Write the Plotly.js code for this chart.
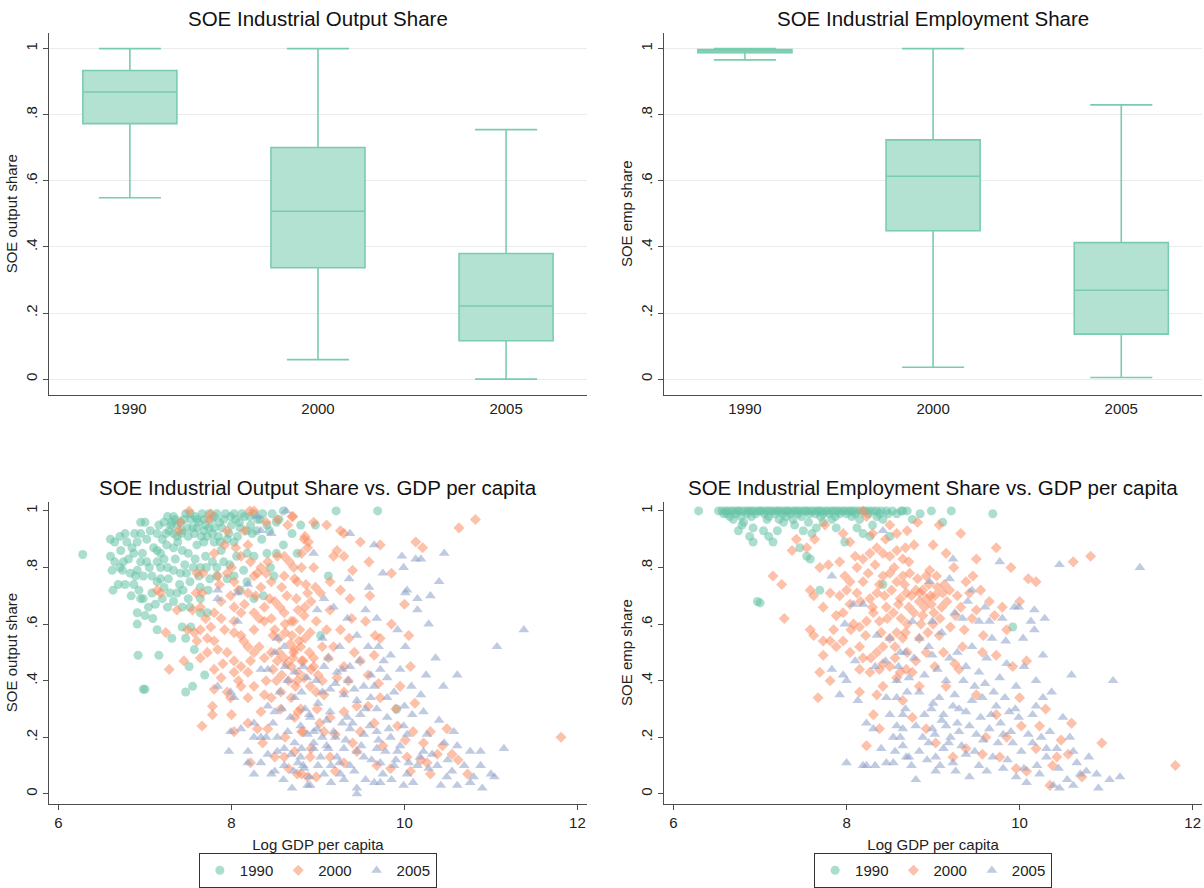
<!DOCTYPE html>
<html>
<head>
<meta charset="utf-8">
<script src="https://cdn.plot.ly/plotly-3.0.1.min.js"></script>
<style>html,body{margin:0;padding:0;background:#fff;}#chart{width:1204px;height:888px;}</style>
</head>
<body>
<div id="chart"></div>
<script>
// ---------- Box plot data (precomputed statistics) ----------
const years = ['1990', '2000', '2005'];
const outQ1 = [0.773, 0.337, 0.116];
const outMedian = [0.869, 0.508, 0.221];
const outQ3 = [0.934, 0.701, 0.380];
const outLow = [0.549, 0.059, 0.0];
const outHigh = [1.0, 1.0, 0.755];

const empQ1 = [0.988, 0.449, 0.136];
const empMedian = [0.995, 0.614, 0.269];
const empQ3 = [0.997, 0.724, 0.413];
const empLow = [0.966, 0.036, 0.005];
const empHigh = [1.0, 1.0, 0.830];

const yTickVals = [0, 0.2, 0.4, 0.6, 0.8, 1];
const yTickText = ['0', '.2', '.4', '.6', '.8', '1'];
const xTickVals = [6, 8, 10, 12];
const xTickText = ['6', '8', '10', '12'];

// ---------- Scatter data: [log GDP per capita, share] ----------
const out1990 = [[6.28,.846],[6.60,.90],[6.65,.89],[6.71,.91],[6.77,.92],[6.60,.84],[6.65,.82],[6.75,.82],[6.81,.83],[6.62,.79],[6.71,.80],[6.79,.89],[6.85,.87],[6.91,.89],[6.95,.96],[7.00,.96],[6.95,.92],[7.02,.90],[6.87,.85],[6.95,.82],[7.02,.82],[6.91,.79],[6.98,.77],[6.89,.77],[6.69,.74],[6.77,.74],[6.87,.74],[6.95,.69],[6.91,.64],[6.98,.69],[7.04,.66],[7.08,.71],[7.12,.67],[7.14,.75],[7.18,.76],[7.22,.73],[7.08,.77],[7.14,.82],[7.14,.86],[7.18,.85],[7.22,.83],[7.10,.87],[7.14,.92],[7.16,.95],[7.24,.92],[7.22,.96],[7.26,.98],[7.28,.93],[7.31,.96],[7.33,.98],[7.37,.95],[7.41,.96],[7.47,.99],[7.53,.97],[7.58,.98],[7.62,.96],[7.68,.97],[7.74,.99],[7.80,.98],[7.33,.92],[7.37,.91],[7.43,.93],[7.49,.94],[7.55,.94],[7.60,.94],[7.68,.93],[7.74,.94],[7.80,.94],[7.86,.96],[7.91,.97],[7.99,.98],[8.03,.99],[8.09,.96],[8.15,.98],[8.21,.98],[8.26,.99],[8.10,.94],[8.18,.93],[8.29,.93],[8.41,.95],[7.33,.87],[7.43,.86],[7.50,.85],[7.60,.88],[7.68,.89],[7.80,.89],[7.87,.89],[7.95,.90],[8.03,.89],[7.26,.80],[7.33,.79],[7.41,.78],[7.48,.78],[7.56,.80],[7.64,.80],[7.71,.80],[7.83,.80],[7.91,.82],[7.29,.71],[7.37,.71],[7.44,.72],[7.52,.75],[7.64,.73],[7.75,.76],[7.83,.77],[7.95,.76],[8.03,.77],[8.18,.85],[8.26,.84],[8.41,.85],[8.49,.77],[8.33,.97],[8.47,.99],[8.60,.88],[8.18,.75],[8.37,.70],[7.26,.66],[7.33,.68],[7.43,.66],[7.52,.66],[7.64,.69],[8.10,.72],[8.26,.69],[6.91,.60],[6.92,.49],[6.98,.37],[7.00,.37],[7.14,.58],[7.16,.49],[7.31,.55],[7.43,.59],[7.53,.59],[7.47,.55],[7.51,.45],[7.47,.36],[7.55,.38],[7.57,.51],[7.69,.42],[7.72,.64],[7.64,.64],[8.80,.95],[8.97,.95],[9.21,1.0],[9.69,1.0],[8.76,.85],[9.12,.77],[9.03,.56],[9.91,.30],[8.60,1.0],[8.52,.96],
  [7.20,.90],[7.25,.88],[7.30,.95],[7.35,.97],[7.38,.89],[7.42,.92],[7.45,.97],[7.50,.91],[7.52,.99],[7.57,.92],[7.60,.97],[7.65,.91],[7.66,.99],[7.70,.95],[7.72,.91],[7.77,.97],[7.78,.92],[7.83,.99],[7.85,.91],[7.89,.94],[7.93,.99],[7.97,.92],[8.00,.95],[8.05,.97],[8.07,.91],[8.12,.99],[8.22,.95],[8.24,.92],[8.30,.97],[8.36,.99],[8.44,.93],[8.55,.97],[7.18,.80],[7.20,.69],[7.27,.76],[7.35,.83],[7.40,.74],[7.46,.81],[7.50,.69],[7.58,.83],[7.62,.77],[7.70,.84],[7.73,.72],[7.78,.82],[7.88,.86],[7.98,.81],[8.06,.84],[8.14,.79],[6.72,.86],[6.83,.78],[6.88,.92],[6.97,.85],[7.05,.80],[7.06,.93],[6.93,.72],[6.84,.70],[7.00,.63],[7.09,.62],[6.63,.72],[6.74,.79],[8.35,.90],[8.52,.85],[8.70,.92],[8.45,.80]];

const out2000 = [[7.51,1.0],[7.76,.99],[7.74,.97],[7.41,.96],[7.39,.93],[8.21,1.0],[8.26,1.0],[7.95,.93],[8.53,.97],[8.65,.95],[8.71,.98],[8.84,.90],[8.88,.87],[8.81,.85],[8.61,.84],[8.53,.84],[8.42,.82],[8.34,.80],[8.30,.78],[8.26,.77],[8.11,.84],[8.05,.87],[8.19,.88],[7.80,.85],[7.60,.78],[7.67,.78],[7.84,.77],[7.95,.78],[8.03,.75],[7.86,.74],[7.66,.71],[7.59,.71],[7.14,.72],[7.18,.71],[7.88,.68],[7.99,.70],[8.19,.71],[8.34,.73],[8.46,.75],[8.61,.77],[8.73,.76],[8.81,.80],[8.88,.71],[8.38,.66],[8.50,.68],[8.26,.64],[8.11,.64],[8.03,.61],[7.88,.62],[7.76,.59],[7.64,.58],[7.57,.57],[7.80,.54],[7.72,.55],[7.60,.54],[7.84,.51],[7.95,.50],[8.03,.57],[8.11,.56],[8.19,.52],[8.26,.58],[8.38,.61],[8.46,.62],[8.61,.64],[8.69,.61],[8.77,.65],[8.84,.63],[8.26,.50],[8.38,.48],[8.46,.50],[8.53,.47],[8.61,.48],[8.69,.45],[8.77,.43],[8.84,.41],[8.81,.47],[8.73,.51],[8.03,.47],[8.11,.45],[8.19,.43],[8.03,.43],[7.88,.41],[7.80,.37],[7.95,.36],[8.11,.38],[8.26,.38],[8.38,.35],[8.46,.34],[8.57,.36],[8.69,.34],[8.77,.29],[8.57,.30],[8.34,.29],[8.19,.34],[7.99,.34],[7.78,.31],[7.78,.28],[7.66,.24],[8.19,.25],[8.30,.23],[8.42,.23],[8.73,.27],[8.81,.22],[8.50,.13],[8.61,.13],[8.73,.15],[8.81,.07],[8.88,.06],[8.22,.11],[7.28,.44],[7.24,.57],[7.37,.65],[7.49,.58],[7.72,.50],[7.64,.48],[7.45,.47],[7.80,.44],[8.03,.66],[7.64,.66],[7.80,.64],[8.03,.22],[8.55,.55],[8.62,.57],[8.68,.53],[8.58,.42],[8.66,.40],[8.74,.38],[8.52,.40],[8.62,.60],[8.70,.56],[8.80,.52],[8.85,.55],[8.90,.50],[8.95,.48],[9.00,.42],[8.50,.58],[8.70,.98],[9.10,.95],[9.26,.93],[9.30,.92],[9.49,.89],[9.72,.88],[10.13,.89],[10.21,.87],[10.63,.94],[10.82,.97],[9.59,.82],[9.22,.86],[9.30,.84],[9.18,.84],[8.85,.91],[8.89,.89],[8.95,.80],[8.72,.80],[8.76,.75],[8.97,.73],[9.14,.75],[9.26,.72],[9.37,.69],[9.03,.71],[8.85,.66],[9.14,.65],[9.39,.62],[8.72,.61],[8.91,.57],[9.26,.58],[9.36,.55],[9.66,.56],[9.72,.55],[10.05,.56],[8.72,.50],[8.83,.47],[8.95,.45],[9.12,.48],[9.30,.45],[9.49,.47],[9.65,.49],[10.07,.45],[8.76,.40],[8.91,.38],[9.07,.35],[9.30,.36],[9.70,.39],[9.72,.34],[8.80,.30],[8.99,.30],[9.14,.27],[9.30,.29],[9.45,.31],[9.92,.24],[10.01,.19],[10.22,.18],[10.49,.23],[10.44,.17],[11.81,.20],[10.03,.13],[10.19,.12],[10.26,.11],[10.38,.14],[10.55,.14],[10.73,.07],[8.76,.07],[8.91,.13],[9.14,.13],[9.30,.11],[9.45,.15],[9.68,.10],[9.84,.09],[10.07,.08],[9.49,.22],[9.65,.25],[9.07,.22],[8.83,.22],
  [8.00,.80],[8.08,.72],[8.15,.67],[8.22,.82],[8.28,.70],[8.32,.62],[8.40,.78],[8.44,.69],[8.48,.56],[8.56,.66],[8.58,.73],[8.64,.70],[8.67,.82],[8.75,.69],[8.79,.58],[8.86,.74],[8.92,.68],[8.98,.61],[9.05,.52],[9.10,.58],[9.18,.52],[9.22,.41],[9.35,.40],[9.42,.50],[9.55,.61],[9.58,.42],[9.85,.60],[9.95,.38],[10.12,.32],[9.02,.25],[9.20,.21],[9.40,.18],[9.58,.31],[9.75,.17],[9.90,.30],[10.30,.22],[8.40,.40],[8.48,.44],[8.55,.50],[8.64,.46],[8.71,.48],[8.78,.54],[8.92,.44],[8.98,.36],[9.05,.40],[8.32,.52],[8.22,.47],[8.14,.54],[8.08,.40],[7.92,.58],[7.70,.62],[7.55,.65],[7.90,.46],[8.00,.28],[8.36,.18],[8.62,.20],[8.92,.16],[9.20,.08],[8.66,.09],[8.98,.06],[10.30,.07],[10.62,.12],[10.10,.22],[7.92,.88],[8.15,.93],[8.40,.96],[8.95,.96],[9.40,.79],[9.60,.70],[9.85,.78],[10.00,.67]];

const out2005 = [[8.63,1.0],[8.30,.98],[8.34,.93],[8.46,.92],[8.19,.74],[8.07,.71],[7.84,.72],[7.84,.69],[8.07,.61],[7.84,.38],[7.99,.36],[8.03,.34],[8.53,.55],[8.61,.52],[8.50,.50],[8.34,.44],[8.42,.44],[8.65,.40],[8.73,.43],[8.81,.36],[8.73,.34],[8.42,.31],[8.50,.29],[8.26,.25],[8.11,.23],[7.99,.22],[8.26,.20],[8.34,.20],[8.53,.20],[8.65,.22],[8.73,.18],[8.81,.16],[8.88,.21],[7.97,.15],[8.19,.15],[8.19,.11],[8.34,.11],[8.50,.08],[8.61,.10],[8.69,.14],[8.77,.11],[8.84,.09],[8.88,.03],[8.26,.07],[8.42,.14],[8.61,.16],[8.46,.07],[8.53,.15],[9.37,.92],[9.65,.88],[8.95,.85],[9.97,.84],[9.99,.80],[10.13,.83],[10.19,.83],[10.46,.85],[9.36,.76],[9.59,.73],[10.03,.72],[10.01,.71],[10.15,.69],[10.30,.70],[10.15,.65],[10.28,.60],[9.68,.62],[9.34,.62],[9.07,.69],[8.99,.65],[9.18,.66],[11.38,.58],[11.07,.52],[9.92,.58],[10.01,.52],[10.36,.48],[10.61,.42],[10.19,.35],[10.22,.29],[10.09,.28],[9.84,.49],[9.76,.47],[9.61,.42],[9.53,.38],[9.37,.45],[9.22,.43],[9.07,.45],[8.87,.41],[8.83,.45],[9.14,.37],[9.30,.35],[9.45,.33],[9.61,.34],[9.80,.41],[9.80,.34],[9.14,.29],[9.34,.27],[9.49,.28],[9.68,.30],[9.80,.27],[9.99,.24],[8.91,.27],[8.80,.24],[8.99,.23],[9.18,.22],[9.37,.23],[9.53,.21],[9.68,.22],[9.84,.20],[10.03,.21],[10.26,.21],[10.57,.22],[11.15,.16],[10.88,.15],[10.76,.15],[10.61,.17],[10.46,.18],[10.22,.15],[10.38,.10],[10.49,.06],[10.69,.10],[10.76,.04],[10.88,.10],[11.00,.07],[11.04,.06],[10.90,.02],[10.61,.03],[10.42,.03],[9.99,.03],[9.72,.04],[9.45,.02],[9.45,.00],[9.65,.04],[9.26,.07],[9.07,.07],[8.91,.03],[8.83,.10],[9.03,.13],[9.22,.13],[9.37,.10],[9.53,.13],[9.72,.11],[9.88,.10],[10.03,.07],[10.15,.10],[9.10,.17],[9.30,.16],[9.45,.15],[9.68,.16],[9.92,.15],[8.95,.16],[8.80,.13],[8.72,.08],[8.90,.28],[9.00,.32],[9.10,.26],[9.20,.20],[9.28,.25],[8.95,.18],[9.12,.16],
  [8.85,.30],[8.95,.22],[9.05,.20],[9.15,.10],[9.25,.11],[9.32,.19],[9.40,.25],[9.42,.08],[9.50,.17],[9.55,.05],[9.60,.24],[9.62,.12],[9.70,.19],[9.75,.07],[9.78,.15],[9.82,.23],[9.85,.05],[9.90,.12],[9.95,.17],[10.05,.11],[10.10,.04],[10.18,.13],[10.28,.09],[10.32,.14],[10.50,.12],[10.55,.08],[10.80,.06],[8.98,.40],[9.05,.36],[9.12,.48],[9.20,.39],[9.28,.44],[9.35,.40],[9.42,.37],[9.48,.47],[9.55,.30],[9.58,.52],[9.65,.38],[9.72,.44],[9.70,.52],[9.88,.36],[9.95,.44],[10.08,.38],[10.40,.26],[10.00,.31],[9.25,.52],[9.45,.56],[9.05,.55],[8.68,.27],[8.58,.30],[8.60,.05],[8.70,.02],[8.40,.20],[8.48,.25],[8.56,.36],[8.62,.45],[8.90,.06],[9.00,.10],[9.15,.04],[9.30,.05],[10.25,.42],[10.45,.38],[9.55,.65],[9.75,.78],[10.40,.75]];

const emp1990 = [[6.29,1.0],[6.56,1.0],[6.60,1.0],[6.63,1.0],[6.67,1.0],[6.70,1.0],[6.74,1.0],[6.76,1.0],[6.80,1.0],[6.84,1.0],[6.87,1.0],[6.90,1.0],[6.93,1.0],[6.97,1.0],[7.00,1.0],[7.02,1.0],[7.06,1.0],[7.09,1.0],[7.12,1.0],[7.15,1.0],[7.19,1.0],[7.21,1.0],[7.24,1.0],[7.28,1.0],[7.31,1.0],[7.33,1.0],[7.37,1.0],[7.40,1.0],[7.43,1.0],[7.46,1.0],[7.50,1.0],[7.53,1.0],[7.55,1.0],[7.59,1.0],[7.62,1.0],[7.66,1.0],[7.68,1.0],[7.71,1.0],[7.75,1.0],[7.78,1.0],[7.82,1.0],[7.85,1.0],[7.88,1.0],[7.91,1.0],[7.95,1.0],[7.98,1.0],[8.02,1.0],[8.05,1.0],[8.08,1.0],[8.12,1.0],[8.16,1.0],[8.20,1.0],[8.23,1.0],[8.27,1.0],[8.31,1.0],[8.35,1.0],[8.40,1.0],[8.46,1.0],[8.53,1.0],[8.63,1.0],[8.98,1.0],[9.21,1.0],[8.65,1.0],[6.58,.99],[6.72,.99],[6.85,.99],[6.95,.99],[7.05,.99],[7.17,.99],[7.26,.99],[7.35,.99],[7.44,.99],[7.57,.99],[7.64,.99],[7.73,.99],[7.80,.99],[7.92,.99],[8.00,.99],[8.10,.99],[8.25,.99],[9.69,.99],[6.65,.98],[6.90,.98],[7.10,.98],[7.30,.98],[7.48,.98],[7.70,.98],[7.87,.98],[8.06,.98],[8.35,.98],[6.69,.97],[6.81,.96],[6.92,.94],[6.79,.95],[7.04,.93],[7.10,.91],[7.15,.89],[6.92,.89],[7.27,.96],[7.40,.95],[7.50,.93],[7.60,.92],[7.54,.84],[7.58,.83],[7.46,.87],[7.69,.72],[6.97,.68],[7.00,.675],[7.73,.96],[7.88,.94],[7.98,.89],[8.12,.94],[8.19,.92],[8.27,.91],[8.42,.97],[8.50,.91],[8.58,.99],[8.42,.74],[8.76,.97],[9.11,.96],[9.92,.59],
  [6.52,1.0],[6.62,.99],[6.78,.98],[7.08,.97],[7.22,.97],[7.38,.97],[7.56,.96],[7.65,.94],[7.83,.97],[8.15,.97],[8.30,.95],[8.38,.99],[8.48,.99],[8.70,1.0],[8.85,.99],[7.20,.93],[6.75,.93],[6.88,.91]];

const emp2000 = [[7.15,.77],[7.25,.74],[7.28,.62],[7.37,.86],[7.42,.90],[7.54,.87],[7.63,.90],[7.75,.95],[7.58,.72],[7.62,.70],[7.58,.58],[7.62,.56],[7.67,.34],[7.69,.80],[7.79,.81],[7.92,.82],[7.73,.66],[7.81,.71],[7.88,.63],[7.73,.54],[7.81,.54],[7.88,.52],[7.96,.54],[7.73,.49],[7.69,.43],[7.81,.40],[7.96,.64],[8.04,.67],[8.04,.75],[8.12,.80],[8.19,.83],[8.27,.85],[8.35,.87],[8.42,.85],[8.50,.84],[8.58,.86],[8.65,.83],[7.96,.92],[8.04,.89],[8.23,.98],[8.19,1.0],[8.50,.95],[8.58,.92],[8.12,.71],[8.19,.75],[8.27,.69],[8.35,.71],[8.42,.77],[8.50,.78],[8.58,.75],[8.65,.77],[8.31,.64],[8.38,.61],[8.46,.66],[8.54,.64],[8.62,.69],[8.69,.71],[8.15,.59],[8.23,.61],[8.15,.52],[8.04,.50],[8.19,.48],[8.35,.50],[8.42,.52],[8.50,.55],[8.58,.57],[8.65,.55],[8.15,.44],[8.27,.43],[8.38,.44],[8.50,.45],[8.62,.43],[8.69,.44],[8.15,.36],[8.35,.35],[8.42,.38],[8.58,.41],[8.31,.28],[8.38,.23],[8.23,.17],[8.65,.33],[8.82,.96],[9.07,.95],[9.32,.92],[9.73,.87],[10.62,.82],[10.82,.84],[10.10,.76],[10.19,.75],[8.68,.87],[8.78,.88],[8.72,.82],[8.96,.79],[9.24,.80],[9.46,.77],[9.38,.75],[9.19,.72],[9.11,.71],[8.92,.69],[8.84,.68],[8.72,.66],[9.01,.64],[9.26,.63],[9.50,.65],[9.65,.68],[9.71,.63],[8.68,.57],[8.84,.55],[9.07,.56],[9.34,.52],[9.57,.50],[9.73,.49],[9.92,.45],[10.08,.47],[8.76,.43],[8.84,.38],[9.15,.38],[9.30,.44],[9.50,.35],[9.73,.28],[10.02,.24],[10.23,.24],[8.76,.27],[8.92,.23],[9.03,.18],[9.38,.16],[9.61,.20],[9.77,.13],[9.96,.09],[10.08,.08],[10.19,.16],[10.48,.19],[10.56,.14],[10.35,.03],[10.72,.06],[11.80,.10],[10.43,.13],[9.57,.14],[9.23,.13],[8.88,.72],[8.95,.74],[9.02,.70],[8.90,.66],[8.98,.67],[9.05,.73],[9.10,.66],[8.80,.72],[8.86,.60],[9.00,.60],
  [8.00,.72],[8.08,.60],[8.10,.84],[8.16,.68],[8.22,.56],[8.25,.78],[8.30,.66],[8.33,.81],[8.38,.74],[8.40,.57],[8.44,.70],[8.47,.62],[8.52,.72],[8.55,.80],[8.56,.52],[8.60,.67],[8.63,.62],[8.67,.74],[8.70,.60],[8.73,.78],[8.75,.70],[8.78,.64],[8.82,.76],[8.85,.71],[8.88,.63],[8.92,.77],[8.94,.57],[8.97,.70],[9.04,.77],[9.08,.62],[9.13,.74],[9.16,.68],[9.20,.59],[9.28,.70],[9.32,.66],[9.36,.58],[9.42,.71],[9.45,.62],[9.55,.72],[9.58,.56],[9.80,.66],[9.85,.58],[10.00,.68],[8.28,.48],[8.42,.46],[8.56,.48],[8.70,.50],[8.80,.47],[8.92,.50],[9.02,.45],[9.12,.50],[9.25,.46],[8.05,.58],[7.92,.70],[7.85,.58],[7.98,.77],[8.30,.92],[8.45,.90],[8.70,.93],[9.00,.88],[9.15,.85],[9.50,.83],[9.90,.80],[10.00,.34],[10.30,.30],[9.85,.20],[10.60,.25],[10.95,.18],[10.38,.10]];

const emp2005 = [[7.83,.77],[8.00,.11],[8.19,.10],[8.23,.10],[8.33,.10],[8.46,.11],[8.56,.15],[8.54,.11],[7.92,.35],[7.96,.42],[8.00,.40],[8.13,.33],[8.23,.25],[8.31,.23],[7.83,.44],[8.08,.67],[8.19,.67],[8.33,.45],[8.35,.56],[8.46,.34],[8.58,.34],[8.65,.28],[8.65,.23],[8.58,.24],[8.54,.20],[8.65,.17],[8.69,.13],[8.42,.93],[8.58,.40],[8.50,.55],[8.62,.50],[9.23,.83],[9.77,.82],[10.46,.81],[11.39,.80],[8.96,.75],[9.19,.76],[9.94,.66],[9.99,.66],[10.17,.65],[10.29,.62],[10.13,.61],[10.17,.58],[10.04,.55],[9.84,.54],[10.27,.49],[10.60,.42],[11.08,.40],[9.65,.61],[9.53,.61],[9.40,.68],[9.34,.62],[8.99,.61],[8.76,.61],[8.84,.55],[8.68,.50],[8.99,.49],[9.19,.48],[9.38,.45],[9.53,.43],[9.77,.41],[9.96,.38],[10.19,.40],[10.37,.36],[10.27,.34],[10.19,.31],[10.15,.28],[8.72,.41],[8.84,.36],[9.07,.34],[9.23,.31],[9.38,.29],[9.57,.34],[9.73,.31],[9.88,.29],[9.99,.27],[8.68,.30],[8.80,.24],[8.99,.23],[9.15,.24],[9.30,.22],[9.50,.21],[9.65,.23],[9.81,.21],[9.92,.18],[10.15,.18],[10.31,.16],[10.43,.16],[10.58,.20],[10.62,.15],[10.31,.13],[8.84,.15],[9.03,.13],[9.23,.11],[9.38,.14],[9.53,.10],[9.69,.13],[9.81,.09],[9.96,.06],[10.08,.04],[10.23,.07],[10.39,.03],[10.46,.02],[10.62,.03],[10.70,.07],[10.77,.08],[10.89,.07],[10.91,.02],[11.04,.05],[11.16,.06],[9.42,.06],[9.03,.08],[8.72,.13],[8.90,.28],[9.00,.32],[9.10,.26],[9.20,.20],[9.30,.30],[8.95,.18],[9.12,.16],[9.28,.25],
  [8.88,.20],[8.93,.12],[8.98,.30],[9.02,.21],[9.08,.10],[9.12,.28],[9.18,.18],[9.25,.35],[9.26,.08],[9.33,.17],[9.35,.40],[9.42,.24],[9.45,.33],[9.48,.15],[9.55,.27],[9.58,.19],[9.60,.39],[9.62,.08],[9.67,.28],[9.70,.36],[9.75,.18],[9.78,.25],[9.83,.34],[9.86,.12],[9.90,.22],[9.95,.30],[10.02,.15],[10.05,.09],[10.10,.21],[10.20,.10],[10.25,.20],[10.35,.22],[10.45,.09],[10.50,.27],[10.55,.05],[10.66,.11],[10.80,.13],[8.90,.42],[8.95,.52],[9.05,.44],[9.10,.57],[9.15,.40],[9.28,.50],[9.45,.52],[9.48,.38],[9.62,.48],[9.68,.55],[9.85,.46],[10.05,.45],[9.25,.64],[9.45,.72],[9.60,.66],[9.80,.62],[8.60,.45],[8.70,.36],[8.78,.48],[8.62,.20],[8.75,.10],[8.80,.05],[8.50,.28],[8.45,.47],[8.40,.16],[8.10,.47],[7.98,.60]];

// ---------- Styling ----------
const FONT = 'Liberation Sans, Arial, Helvetica, sans-serif';
const AXIS = '#4d4d4d';
const BOX_FILL = 'rgb(179,226,210)';
const BOX_LINE = 'rgb(122,204,174)';
const C1990 = 'rgb(102,194,165)';
const C2000 = 'rgb(252,141,98)';
const C2005 = 'rgb(141,160,203)';

function boxTrace(q1, med, q3, lo, hi, xa, ya) {
  return {
    type: 'box', x: years, q1: q1, median: med, q3: q3,
    lowerfence: lo, upperfence: hi,
    xaxis: xa, yaxis: ya, width: 0.5, whiskerwidth: 0.66,
    fillcolor: BOX_FILL, line: {color: BOX_LINE, width: 1.6},
    boxpoints: false, showlegend: false, hoverinfo: 'skip'
  };
}
function scat(data, name, color, symbol, size, xa, ya, leg) {
  return {
    type: 'scatter', mode: 'markers', name: name,
    x: data.map(p => p[0]), y: data.map(p => p[1]),
    xaxis: xa, yaxis: ya, legend: leg,
    marker: {color: color, symbol: symbol, size: size, opacity: 0.55, line: {width: 0}}
  };
}

const traces = [
  boxTrace(outQ1, outMedian, outQ3, outLow, outHigh, 'x', 'y'),
  boxTrace(empQ1, empMedian, empQ3, empLow, empHigh, 'x2', 'y2'),
  scat(out1990, '1990', C1990, 'circle', 9, 'x3', 'y3', 'legend'),
  scat(out2000, '2000', C2000, 'diamond', 8.5, 'x3', 'y3', 'legend'),
  scat(out2005, '2005', C2005, 'triangle-up', 9.5, 'x3', 'y3', 'legend'),
  scat(emp1990, '1990', C1990, 'circle', 9, 'x4', 'y4', 'legend2'),
  scat(emp2000, '2000', C2000, 'diamond', 8.5, 'x4', 'y4', 'legend2'),
  scat(emp2005, '2005', C2005, 'triangle-up', 9.5, 'x4', 'y4', 'legend2')
];

const tickFont = {family: FONT, size: 15, color: '#222'};
const titleFont = {family: FONT, size: 15, color: '#222'};

function catX(domain, anchor) {
  return {domain: domain, anchor: anchor, type: 'category', range: [-0.43, 2.43],
    showline: true, linecolor: AXIS, linewidth: 1.3, ticks: '', showgrid: false,
    zeroline: false, tickfont: tickFont, fixedrange: true};
}
function numX(domain, anchor) {
  return {domain: domain, anchor: anchor, range: [5.89, 12.11],
    tickvals: xTickVals, ticktext: xTickText,
    showline: true, linecolor: AXIS, linewidth: 1.3, ticks: 'outside', ticklen: 5,
    tickcolor: AXIS, showgrid: false, zeroline: false, tickfont: tickFont,
    title: {text: 'Log GDP per capita', font: titleFont, standoff: 9}};
}
function shareY(domain, anchor, range, title, grid) {
  return {domain: domain, anchor: anchor, range: range,
    tickvals: yTickVals, ticktext: yTickText, tickangle: -90,
    showline: true, linecolor: AXIS, linewidth: 1.3, ticks: 'outside', ticklen: 5,
    tickcolor: AXIS, showgrid: grid, gridcolor: '#ebebeb', gridwidth: 1,
    zeroline: false, tickfont: tickFont,
    title: {text: title, font: titleFont, standoff: 1}};
}

const topY = [0.5526, 0.9628];
const botY = [0.0890, 0.4313];
const leftX = [0.0407, 0.4875];
const rightX = [0.5515, 0.9985];

const legendBase = {orientation: 'h', yanchor: 'top', y: 0.0327, xanchor: 'center',
  bordercolor: '#333', borderwidth: 1, bgcolor: '#fff',
  font: {family: FONT, size: 15, color: '#222'}, itemclick: false};

const layout = {
  width: 1204, height: 888, autosize: false,
  margin: {l: 0, r: 0, t: 0, b: 0},
  paper_bgcolor: '#fff', plot_bgcolor: '#fff',
  font: {family: FONT, color: '#222'},
  xaxis: catX(leftX, 'y'),
  yaxis: shareY(topY, 'x', [-0.047, 1.048], 'SOE output share', true),
  xaxis2: catX(rightX, 'y2'),
  yaxis2: shareY(topY, 'x2', [-0.047, 1.048], 'SOE emp share', true),
  xaxis3: numX(leftX, 'y3'),
  yaxis3: shareY(botY, 'x3', [-0.034, 1.033], 'SOE output share', false),
  xaxis4: numX(rightX, 'y4'),
  yaxis4: shareY(botY, 'x4', [-0.034, 1.033], 'SOE emp share', false),
  legend: Object.assign({}, legendBase, {x: 0.264}),
  legend2: Object.assign({}, legendBase, {x: 0.775}),
  annotations: [
    {text: 'SOE Industrial Output Share', x: 0.264, y: 0.9786},
    {text: 'SOE Industrial Employment Share', x: 0.775, y: 0.9786},
    {text: 'SOE Industrial Output Share vs. GDP per capita', x: 0.264, y: 0.447},
    {text: 'SOE Industrial Employment Share vs. GDP per capita', x: 0.775, y: 0.447}
  ].map(a => Object.assign(a, {xref: 'paper', yref: 'paper', xanchor: 'center',
    yanchor: 'middle', showarrow: false, font: {family: FONT, size: 20.5, color: '#111'}}))
};

Plotly.newPlot('chart', traces, layout, {displayModeBar: false, staticPlot: true});
</script>
</body>
</html>
